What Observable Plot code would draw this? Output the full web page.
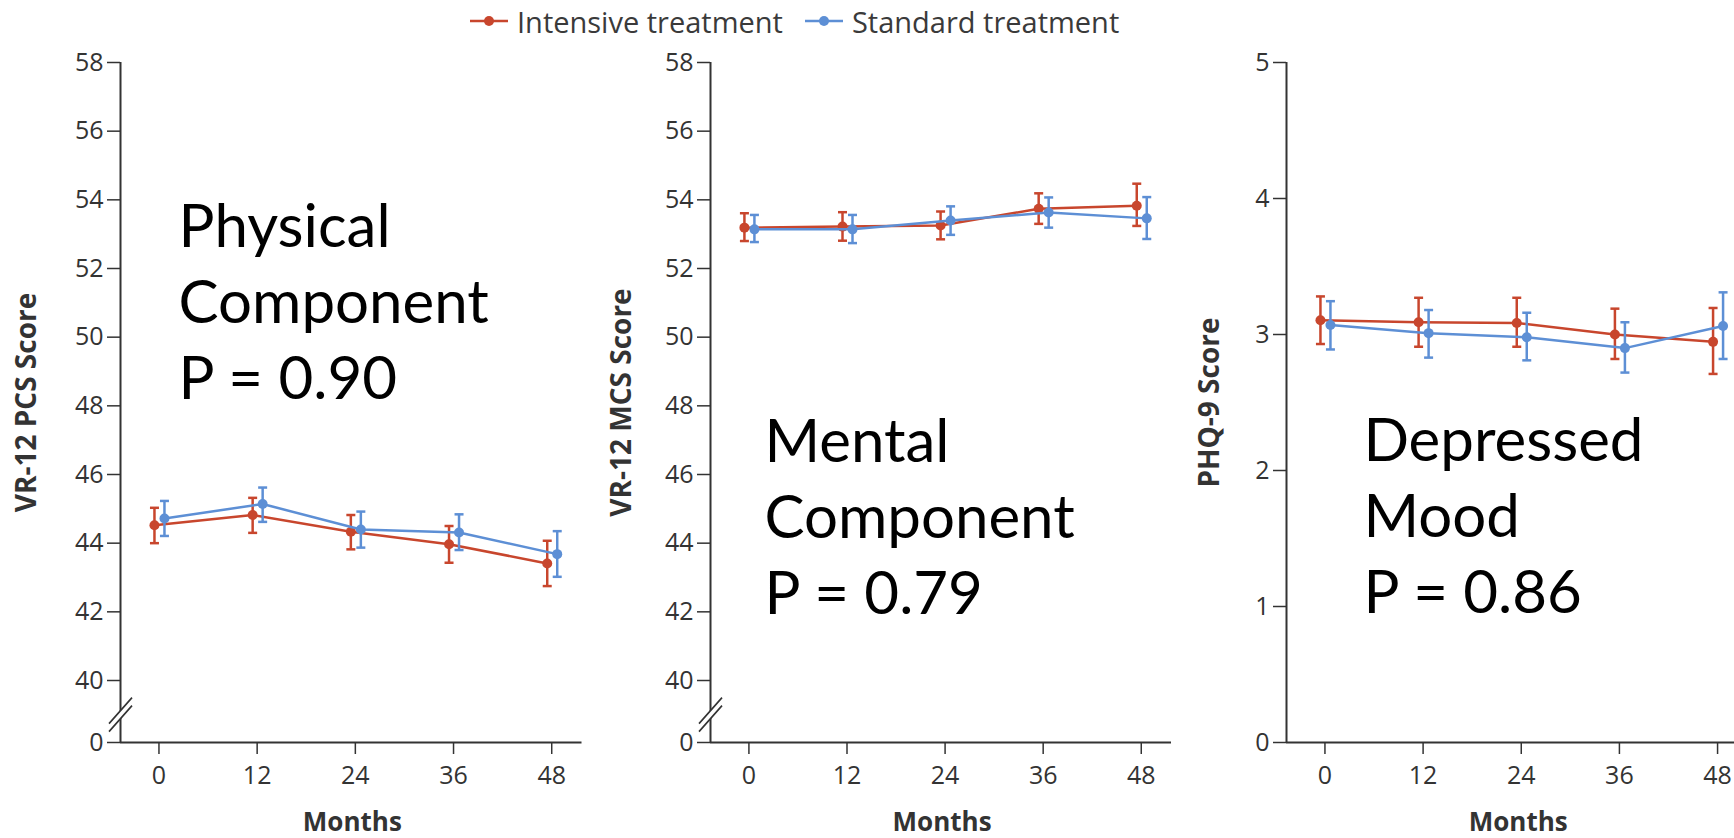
<!DOCTYPE html>
<html>
<head>
<meta charset="utf-8">
<script src="https://cdn.jsdelivr.net/npm/d3@7"></script>
<script src="https://cdn.jsdelivr.net/npm/@observablehq/plot@0.6"></script>
<style>
  body { margin: 0; background: #fff; }
  #wrap { position: relative; width: 1734px; height: 838px; overflow: hidden; background: #fff; }
  #legend { position: absolute; left: 470px; top: 1px; height: 40px; display: flex; align-items: center;
            font-family: "Open Sans", sans-serif; font-size: 29px; color: #3a3a3a; white-space: nowrap; }
  #legend .item { display: flex; align-items: center; margin-right: 22px; }
  #legend svg { margin-right: 9px; }
</style>
</head>
<body>
<div id="wrap"><div id="legend"></div></div>
<script>
// ---------- data ----------
const months = [0, 12, 24, 36, 48];
const seriesNames = ["Intensive treatment", "Standard treatment"];
const seriesColors = ["#c8462d", "#5d8fd5"];

// VR-12 PCS
const pcsIntensive   = [44.52, 44.82, 44.33, 43.97, 43.41];
const pcsIntensiveLo = [44.00, 44.30, 43.82, 43.43, 42.75];
const pcsIntensiveHi = [45.03, 45.32, 44.82, 44.50, 44.07];
const pcsStandard    = [44.72, 45.14, 44.40, 44.31, 43.68];
const pcsStandardLo  = [44.21, 44.62, 43.87, 43.80, 43.02];
const pcsStandardHi  = [45.23, 45.62, 44.92, 44.84, 44.35];

// VR-12 MCS
const mcsIntensive   = [53.19, 53.22, 53.25, 53.74, 53.83];
const mcsIntensiveLo = [52.80, 52.81, 52.85, 53.30, 53.24];
const mcsIntensiveHi = [53.61, 53.64, 53.66, 54.19, 54.47];
const mcsStandard    = [53.14, 53.14, 53.40, 53.63, 53.46];
const mcsStandardLo  = [52.77, 52.74, 52.98, 53.19, 52.86];
const mcsStandardHi  = [53.56, 53.56, 53.81, 54.07, 54.08];

// PHQ-9
const phqIntensive   = [3.105, 3.09, 3.085, 3.00, 2.946];
const phqIntensiveLo = [2.93, 2.91, 2.91, 2.82, 2.71];
const phqIntensiveHi = [3.28, 3.27, 3.27, 3.19, 3.195];
const phqStandard    = [3.07, 3.01, 2.98, 2.90, 3.063];
const phqStandardLo  = [2.89, 2.83, 2.81, 2.72, 2.82];
const phqStandardHi  = [3.245, 3.18, 3.16, 3.09, 3.31];

const brokenTicks = [0, 40, 42, 44, 46, 48, 50, 52, 54, 56, 58];
const phqTicks = [0, 1, 2, 3, 4, 5];
const yLabels = ["VR-12 PCS Score", "VR-12 MCS Score", "PHQ-9 Score"];
const xLabel = "Months";
const annotations = ["Physical\nComponent\nP = 0.90", "Mental\nComponent\nP = 0.79", "Depressed\nMood\nP = 0.86"];
const annotationX = [2.4, 1.9, 4.7];
const annotationY = [48.21, 41.95, 0.95];
const breakValue = 18;

// ---------- styling / layout ----------
const axisColor = "#333";
const tickFont = "'Open Sans', sans-serif";
const H = 798, MT = 22, MB = 96;
const breakGapPx = 62;
const xMin = -4.7;
const layouts = [
  {left: 0,    width: 590, ml: 120, mr: 8.5, xMax: 51.7, labelDx: -93},
  {left: 590,  width: 586, ml: 120, mr: 5,   xMax: 51.7, labelDx: -88},
  {left: 1176, width: 558, ml: 110, mr: 0,   xMax: 50.07, labelDx: -76}
];

// broken-axis mapping: values below 40 are squeezed into a short gap above 0
const pxPerUnit = (H - MB - MT - breakGapPx) / 18;
const gapUnits = breakGapPx / pxPerUnit;
const squeeze = v => v >= 40 ? v : 40 - (40 - v) / 40 * gapUnits;
const unsqueeze = t => t >= 40 ? t : 40 - (40 - t) * 40 / gapUnits;

function rows(vals, lo, hi) {
  return months.map((m, i) => ({month: m, value: vals[i], lo: lo[i], hi: hi[i]}));
}
const panelData = [
  [rows(pcsIntensive, pcsIntensiveLo, pcsIntensiveHi), rows(pcsStandard, pcsStandardLo, pcsStandardHi)],
  [rows(mcsIntensive, mcsIntensiveLo, mcsIntensiveHi), rows(mcsStandard, mcsStandardLo, mcsStandardHi)],
  [rows(phqIntensive, phqIntensiveLo, phqIntensiveHi), rows(phqStandard, phqStandardLo, phqStandardHi)]
];

const capSymbol = { draw(ctx, size) { const r = Math.sqrt(size / Math.PI); ctx.moveTo(-r, 0); ctx.lineTo(r, 0); } };
const slashSymbol = { draw(ctx) {
  ctx.moveTo(-11.5, 9); ctx.lineTo(11.5, -17);
  ctx.moveTo(-11.5, 17); ctx.lineTo(11.5, -9);
} };
const coverSymbol = { draw(ctx) {
  ctx.moveTo(-11.5, 9); ctx.lineTo(11.5, -17); ctx.lineTo(11.5, -9); ctx.lineTo(-11.5, 17); ctx.closePath();
} };
const offsets = [-4.5, 5.5];

// ---------- legend ----------
const legend = document.getElementById("legend");
seriesNames.forEach((name, i) => {
  const item = document.createElement("div");
  item.className = "item";
  item.innerHTML = `<svg width="38" height="14"><line x1="0" x2="38" y1="7" y2="7" stroke="${seriesColors[i]}" stroke-width="2.5"/><circle cx="19" cy="7" r="5" fill="${seriesColors[i]}"/></svg><span>${name}</span>`;
  legend.appendChild(item);
});

// ---------- panels ----------
const wrap = document.getElementById("wrap");
layouts.forEach((L, p) => {
  const broken = p < 2;
  const f = broken ? squeeze : (v => v);
  const finv = broken ? unsqueeze : (t => t);
  const yTop = broken ? 58 : 5;
  const yMid = (f(0) + yTop) / 2;
  const marks = [
    Plot.ruleY([f(0)], {stroke: axisColor, strokeWidth: 2}),
    Plot.ruleX([xMin], {y1: f(0), y2: yTop, stroke: axisColor, strokeWidth: 2}),
    Plot.axisY((broken ? brokenTicks : phqTicks).map(f), {tickSize: 13, tickPadding: 4, label: null,
                fontSize: 25, color: axisColor, strokeWidth: 1.5, tickFormat: t => String(Math.round(finv(t)))}),
    Plot.axisX({ticks: months, tickSize: 12, tickPadding: 12, label: null,
                fontSize: 25, color: axisColor, strokeWidth: 1.5, tickFormat: d => String(d)})
  ];
  if (broken) {
    marks.push(
      Plot.dot([f(breakValue)], {x: xMin, y: d => d, symbol: coverSymbol, r: 5, fill: "white", stroke: "none"}),
      Plot.dot([f(breakValue)], {x: xMin, y: d => d, symbol: slashSymbol, r: 5, fill: "none", stroke: axisColor, strokeWidth: 1.6})
    );
  }
  panelData[p].forEach((data, s) => {
    const c = seriesColors[s], dx = offsets[s];
    marks.push(
      Plot.ruleX(data, {x: "month", y1: d => f(d.lo), y2: d => f(d.hi), stroke: c, strokeWidth: 2.5, dx}),
      Plot.dot(data, {x: "month", y: d => f(d.lo), symbol: capSymbol, r: 4.5, stroke: c, strokeWidth: 2.5, dx}),
      Plot.dot(data, {x: "month", y: d => f(d.hi), symbol: capSymbol, r: 4.5, stroke: c, strokeWidth: 2.5, dx}),
      Plot.line(data, {x: "month", y: d => f(d.value), stroke: c, strokeWidth: 2.5, dx}),
      Plot.dot(data, {x: "month", y: d => f(d.value), r: 5, fill: c, stroke: "none", dx})
    );
  });
  marks.push(
    Plot.text([annotations[p]], {x: annotationX[p], y: f(annotationY[p]), text: d => d, textAnchor: "start",
      lineAnchor: "bottom", lineHeight: 76 / 60, fontSize: 60, fontFamily: "Lato, sans-serif", fill: "#000"}),
    Plot.text([yLabels[p]], {x: xMin, y: yMid, rotate: -90, dx: L.labelDx, text: d => d,
      fontSize: 28, fontWeight: "bold", fontFamily: tickFont, fill: axisColor}),
    Plot.text([xLabel], {x: 24, frameAnchor: "bottom", dy: 88, dx: -3, text: d => d,
      fontSize: 26, fontWeight: "bold", fontFamily: tickFont, fill: axisColor})
  );
  const svg = Plot.plot({
    width: L.width, height: H,
    marginLeft: L.ml, marginRight: L.mr, marginTop: MT, marginBottom: MB,
    x: {domain: [xMin, L.xMax]},
    y: {domain: [f(0), yTop]},
    style: {background: "transparent", overflow: "visible", fontFamily: tickFont, fontSize: "25px", color: axisColor},
    marks
  });
  svg.style.position = "absolute";
  svg.style.left = L.left + "px";
  svg.style.top = "40px";
  wrap.appendChild(svg);
});
</script>
</body>
</html>
